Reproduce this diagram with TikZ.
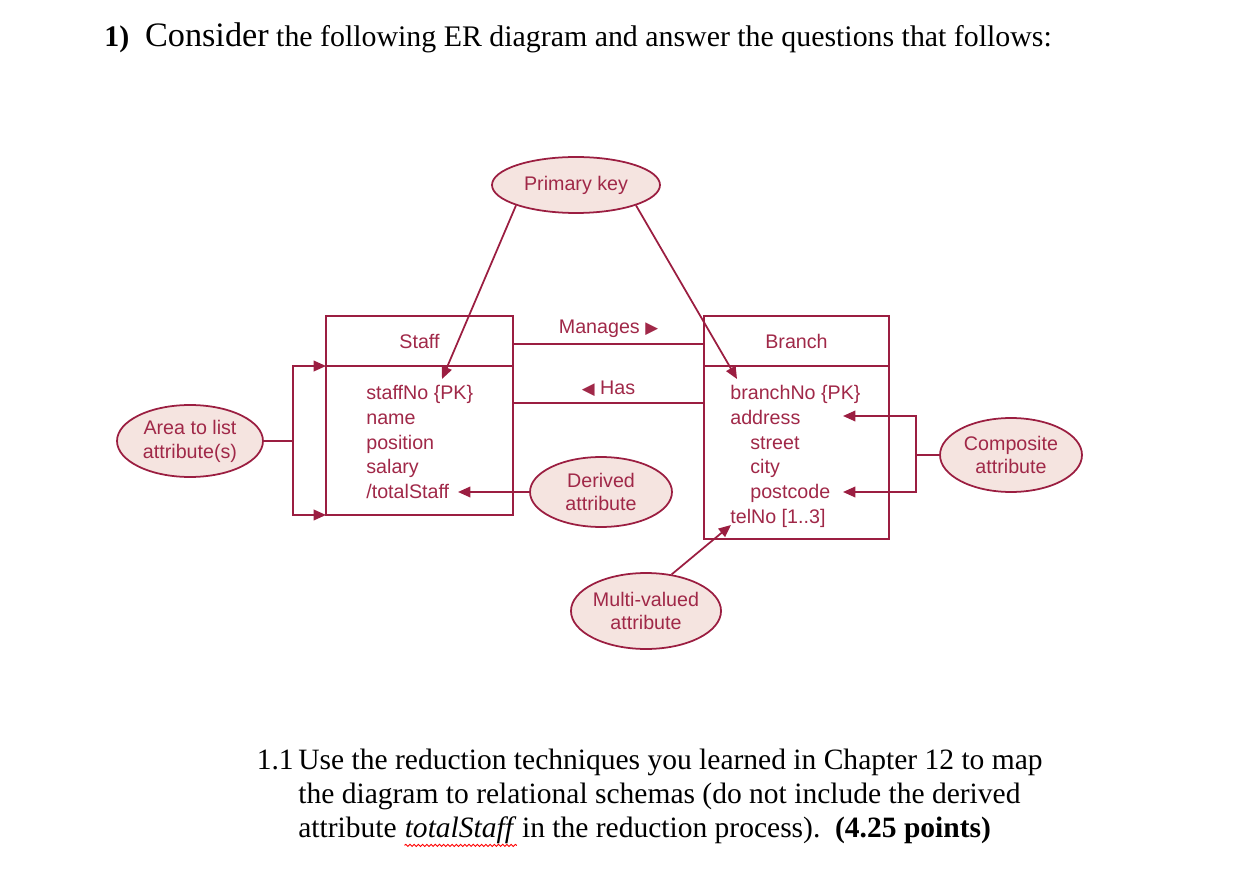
\documentclass[tikz,border=0pt]{standalone}
\usepackage{fontspec}
\setmainfont{Liberation Serif}
\newfontfamily\erfont{Liberation Sans}
\newfontfamily\symfont{DejaVu Sans}
\usetikzlibrary{shapes.geometric, positioning, arrows.meta, decorations.pathmorphing}
\definecolor{erred}{RGB}{155,30,65}
\definecolor{ertext}{RGB}{160,40,72}
\definecolor{erfill}{RGB}{245,228,224}

\begin{document}
\begin{tikzpicture}[
    x=0.02cm, y=-0.02cm,
    entity/.style={
        rectangle,
        draw=erred,
        line width=1pt,
        inner sep=0pt,
        outer sep=0pt,
        font=\erfont\fontsize{11.2}{14}\selectfont,
        text=ertext
    },
    note/.style={
        ellipse,
        draw=erred,
        line width=1pt,
        fill=erfill,
        inner sep=0pt,
        align=center,
        font=\erfont\fontsize{11.2}{13.6}\selectfont,
        text=ertext
    },
    attr/.style={anchor=base west, inner sep=0pt, font=\erfont\fontsize{11.2}{14}\selectfont, text=ertext},
    link/.style={draw=erred, line width=1pt},
    pointer/.style={link, -{Triangle[length=7pt,width=6pt]}},
    question/.style={anchor=base west, inner sep=0pt, font=\fontsize{16.8}{20}\selectfont}
]
    \useasboundingbox (0,0) rectangle (1234,878);

    % Question heading
    \node[anchor=base west, inner sep=0pt, font=\fontsize{17}{20}\selectfont] (title) at (104,47)
        {\textbf{1)}\hspace{9pt}{\fontsize{19.5}{22}\selectfont Consider} the following ER diagram and answer the questions that follows:};

    % Entities
    \node[entity, minimum width=3.74cm, minimum height=1cm] (staffhead) at (419.5,341) {Staff};
    \node[entity, minimum width=3.74cm, minimum height=2.98cm] (staffbody) at (419.5,440.5) {};
    \node[entity, minimum width=3.70cm, minimum height=1cm] (branchhead) at (796.5,341) {Branch};
    \node[entity, minimum width=3.70cm, minimum height=3.46cm] (branchbody) at (796.5,452.5) {};

    % Staff attributes
    \node[attr] (staffno) at (366,399) {staffNo \{PK\}};
    \node[attr] (sname) at (366,424) {name};
    \node[attr] (spos) at (366,449) {position};
    \node[attr] (ssal) at (366,473) {salary};
    \node[attr] (stotal) at (366,498) {/totalStaff};

    % Branch attributes
    \node[attr] (branchno) at (730,399) {branchNo \{PK\}};
    \node[attr] (baddr) at (730,424) {address};
    \node[attr] (bstreet) at (750,449) {street};
    \node[attr] (bcity) at (750,473) {city};
    \node[attr] (bpost) at (750,498) {postcode};
    \node[attr] (btel) at (730,523) {telNo [1..3]};

    % Relationships
    \draw[link] (staffhead.east |- 0,344) -- node[above=3pt, attr, anchor=south] (manages)
        {Manages {\symfont\fontsize{9.5}{9}\selectfont ▶}} (branchhead.west |- 0,344);
    \draw[link] (staffbody.east |- 0,403) -- node[above=3pt, attr, anchor=south] (has)
        {{\symfont\fontsize{9.5}{9}\selectfont ◀} Has} (branchbody.west |- 0,403);

    % Annotations
    \node[note, minimum width=3.36cm, minimum height=1.12cm] (pk) at (576,185) {Primary key};
    \node[note, minimum width=2.92cm, minimum height=1.44cm] (area) at (190,441) {Area to list\\attribute(s)};
    \node[note, minimum width=2.84cm, minimum height=1.4cm] (derived) at (601,492) {Derived\\attribute};
    \node[note, minimum width=2.84cm, minimum height=1.48cm] (composite) at (1011,455) {Composite\\attribute};
    \node[note, minimum width=2.80cm, minimum height=1.52cm] (multi) at (646,611) {Multi-valued\\attribute};

    \coordinate (pkstaff) at (442,379);
    \coordinate (pkbranch) at (737,379);
    \coordinate (areajoin) at (area.east -| 293,0);
    \coordinate (compjoin) at (composite.west -| 916,0);
    \coordinate (addrtip) at (843,416);
    \coordinate (posttip) at (843,492);
    \coordinate (totaltip) at (458,492);
    \coordinate (teltip) at (731,525);

    \draw[pointer] (pk.south west) -- (pkstaff);
    \draw[pointer] (pk.south east) -- (pkbranch);

    \draw[link] (area.east) -- (areajoin);
    \draw[pointer] (areajoin) |- (staffbody.north west);
    \draw[pointer] (areajoin) |- (staffbody.south west);

    \draw[pointer] (derived.west) -- (totaltip);

    \draw[link] (composite.west) -- (compjoin);
    \draw[pointer] (compjoin) |- (addrtip);
    \draw[pointer] (compjoin) |- (posttip);

    \draw[pointer] (multi.55) -- (teltip);

    % Question 1.1
    \node[question, anchor=base east] (qnum) at (294,769) {1.1};
    \node[question] (q1) at (298,769) {Use the reduction techniques you learned in Chapter 12 to map};
    \node[question] (q2) at (298,803) {the diagram to relational schemas (do not include the derived};
    \node[question] (q3a) at (298,837) {attribute};
    \node[question] (qword) at ([xshift=4.2pt]q3a.base east) {\textit{totalStaff}};
    \node[question] (q3b) at ([xshift=2.8pt]qword.base east) {in the reduction process).\ \ \textbf{(4.25 points)}};
    \draw[red, line width=0.5pt, decorate, decoration={snake, amplitude=0.6pt, segment length=2.4pt}]
        ([yshift=-1pt]qword.south west) -- ([yshift=-1pt]qword.south east);

\end{tikzpicture}
\end{document}
